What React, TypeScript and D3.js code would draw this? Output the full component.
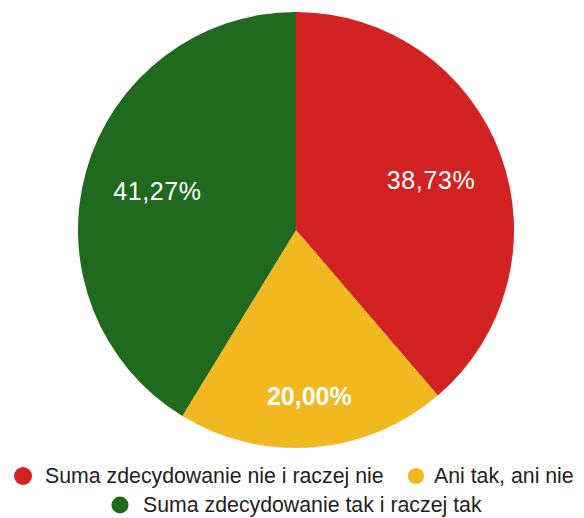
import React from "react";
import * as d3 from "d3";

const categories = ["Suma zdecydowanie nie i raczej nie", "Ani tak, ani nie", "Suma zdecydowanie tak i raczej tak"];
const values = [38.73, 20.0, 41.27];
const valueLabels = ["38,73%", "20,00%", "41,27%"];
const colors = ["#d22222", "#f2b81f", "#1f6a1f"];

const W = 584, H = 518;
const cx = 296, cy = 230, R = 218;

export default function App() {
  const pie = d3.pie<number>().sort(null).value((d) => d);
  const arcs = pie(values);
  const arc = d3.arc<d3.PieArcDatum<number>>().innerRadius(0).outerRadius(R);
  const labelR = [144, 167, 144];
  const legend = [
    { i: 0, x: 23, y: 476, r: 9, tx: 45 },
    { i: 1, x: 416, y: 476, r: 8, tx: 434 },
    { i: 2, x: 120, y: 505, r: 8.5, tx: 143 },
  ];
  return (
    <svg width={W} height={H} style={{ position: "absolute", left: 0, top: 0, background: "#fff" }}
      fontFamily="'Liberation Sans', Arial, sans-serif">
      <g transform={`translate(${cx},${cy})`}>
        {arcs.map((a, i) => (
          <path key={i} d={arc(a) || ""} fill={colors[i]} />
        ))}
        {arcs.map((a, i) => {
          const la = d3.arc<d3.PieArcDatum<number>>().innerRadius(labelR[i]).outerRadius(labelR[i]);
          const [x, y] = la.centroid(a);
          return (
            <text key={i} x={x} y={y} dy="0.35em" textAnchor="middle" fill="#fff"
              fontSize={25} fontWeight={i === 1 ? "bold" : "normal"} letterSpacing={i === 1 ? 0 : 0.6}>
              {valueLabels[i]}
            </text>
          );
        })}
      </g>
      {legend.map((l) => (
        <g key={l.i}>
          <circle cx={l.x} cy={l.y} r={l.r} fill={colors[l.i]} />
          <text x={l.tx} y={l.y} dy="0.35em" fontSize={21.3} fill="#222">{categories[l.i]}</text>
        </g>
      ))}
    </svg>
  );
}
